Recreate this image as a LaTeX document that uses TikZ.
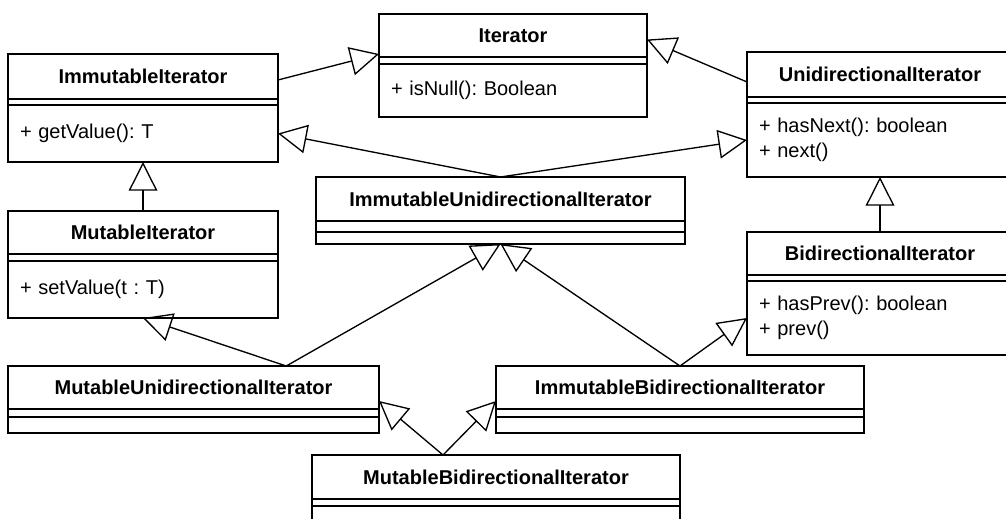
\documentclass[tikz,border=0pt]{standalone}
\usepackage{fontspec}
\setmainfont{Liberation Sans}
\frenchspacing
\usetikzlibrary{positioning, arrows.meta, calc}
\tikzset{
uml/.style={draw, line width=1pt, outer sep=0pt, inner xsep=9pt, inner ysep=0pt}, % common look of every compartment
classname/.style args={#1/#2}{uml, text width=#1, minimum height=#2, align=center, font=\fontsize{15}{18}\selectfont\bfseries},
classattr/.style args={#1/#2}{uml, text width=#1, minimum height=#2},
classops/.style args={#1/#2}{uml, text width=#1, minimum height=#2, align=left, font=\fontsize{15}{18.5}\selectfont},
extends/.style={-{Triangle[open, length=21.5pt, width=21.5pt]}, line width=1pt}, % generalization arrow
}
\begin{document}
\begin{tikzpicture}[x=0.75pt, y=-0.75pt]
\useasboundingbox (0,0) rectangle (1006,518);

% top row
\node[classname=184.5pt/33.75pt, anchor=north west] (immIt) at (8,54) {ImmutableIterator};
\node[classattr=184.5pt/4.5pt, below=0pt of immIt] (immItA) {};
\node[classops=184.5pt/42.75pt, below=0pt of immItA] (immItO) {+ getValue(): T};

\node[classname=183pt/32.25pt, anchor=north west] (iter) at (379,14) {Iterator};
\node[classattr=183pt/5.25pt, below=0pt of iter] (iterA) {};
\node[classops=183pt/39.75pt, below=0pt of iterA] (iterO) {+ isNull(): Boolean};

\node[classname=181.5pt/33.75pt, anchor=north west] (uniIt) at (747,52) {UnidirectionalIterator};
\node[classattr=181.5pt/4.5pt, below=0pt of uniIt] (uniItA) {};
\node[classops=181.5pt/55.5pt, below=0pt of uniItA] (uniItO) {+ hasNext(): boolean\\+ next()};

% middle row
\node[classname=258.75pt/33pt, anchor=north west] (iui) at (316,177) {ImmutableUnidirectionalIterator};
\node[classattr=258.75pt/8.25pt, below=0pt of iui] (iuiA) {};
\node[classops=258.75pt/9pt, below=0pt of iuiA] (iuiO) {};

\node[classname=184.5pt/32.25pt, anchor=north west] (mutIt) at (8,211) {MutableIterator};
\node[classattr=184.5pt/5.25pt, below=0pt of mutIt] (mutItA) {};
\node[classops=184.5pt/42.75pt, below=0pt of mutItA] (mutItO) {+ setValue(t : T)};

\node[classname=181.5pt/32.25pt, anchor=north west] (bidiIt) at (747,232) {BidirectionalIterator};
\node[classattr=181.5pt/4.5pt, below=0pt of bidiIt] (bidiItA) {};
\node[classops=181.5pt/55.5pt, below=0pt of bidiItA] (bidiItO) {+ hasPrev(): boolean\\+ prev()};

% bottom rows
\node[classname=260.25pt/32.25pt, anchor=north west] (mui) at (8,366) {MutableUnidirectionalIterator};
\node[classattr=260.25pt/6pt, below=0pt of mui] (muiA) {};
\node[classops=260.25pt/12pt, below=0pt of muiA] (muiO) {};

\node[classname=258pt/32.25pt, anchor=north west] (ibi) at (496,366) {ImmutableBidirectionalIterator};
\node[classattr=258pt/6pt, below=0pt of ibi] (ibiA) {};
\node[classops=258pt/12pt, below=0pt of ibiA] (ibiO) {};

\node[classname=258pt/33pt, anchor=north west] (mbi) at (312,455) {MutableBidirectionalIterator};
\node[classattr=258pt/5.25pt, below=0pt of mbi] (mbiA) {};
\node[classops=258pt/12pt, below=0pt of mbiA] (mbiO) {};

% generalizations
\draw[extends] ([yshift=-2.6pt]immIt.east) -- ([yshift=2.25pt]iter.south west);
\draw[extends] ([yshift=-5.6pt]uniIt.west) -- ([yshift=-3pt]iter.east);
\draw[extends] (iui.north) -- (immItO.east);
\draw[extends] (iui.north) -- (uniItO.west);
\draw[extends] (mutIt.north) -- (immItO.south);
\draw[extends] (bidiIt.north) -- (uniItO.south);
\draw[extends] ($(mui.north west)!0.75!(mui.north east)$) -- (mutItO.south);
\draw[extends] ($(mui.north west)!0.75!(mui.north east)$) -- (iuiO.south);
\draw[extends] (ibi.north) -- (iuiO.south);
\draw[extends] (ibi.north) -- (bidiItO.west);
\draw[extends] ([xshift=98.25pt]mbi.north west) -- ([yshift=6pt]mui.south east);
\draw[extends] ([xshift=98.25pt]mbi.north west) -- ([yshift=6pt]ibi.south west);
\end{tikzpicture}
\end{document}
